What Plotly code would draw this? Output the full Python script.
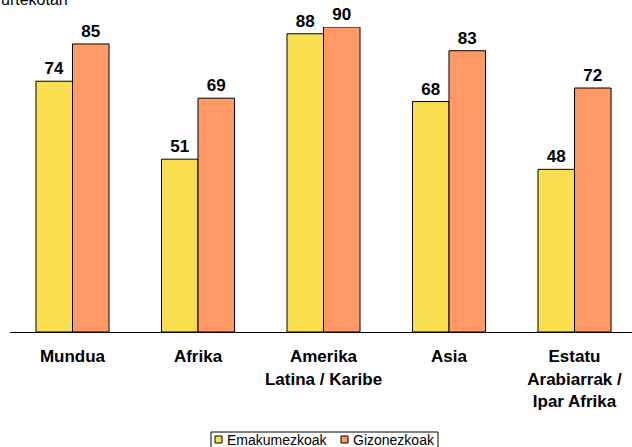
import plotly.graph_objects as go

categories = ["Mundua", "Afrika", "Amerika<br>Latina / Karibe", "Asia", "Estatu<br>Arabiarrak /<br>Ipar Afrika"]
series_names = ["Emakumezkoak", "Gizonezkoak"]
emakumezkoak = [74, 51, 88, 68, 48]
gizonezkoak = [85, 69, 90, 83, 72]
colors = ["#F9DF50", "#FF9966"]

FONT = "Liberation Sans, Arial"
W, H = 632, 447
ML, MR, MT, MB = 10, 0, 27, 115
PW, PH = W - ML - MR, H - MT - MB


def px_x(px):
    return (px - ML) / PW


def px_y(py):
    return (H - MB - py) / PH


fig = go.Figure()
for name, vals, col in zip(series_names, [emakumezkoak, gizonezkoak], colors):
    fig.add_trace(go.Bar(
        x=categories, y=vals, name=name,
        marker=dict(color=col, line=dict(color="#000000", width=1)),
        text=vals, textposition="outside", cliponaxis=False,
        textfont=dict(family=FONT, size=17, color="#000000", weight="bold"),
        showlegend=False,
    ))

# Manual compact legend (box, swatches, labels)
shapes = [dict(type="rect", xref="paper", yref="paper",
               x0=px_x(211), x1=px_x(438), y0=px_y(432), y1=px_y(455),
               line=dict(color="#000000", width=1), fillcolor="white", layer="above")]
annotations = []
legend_pos = [(215, 226), (341, 352)]
for (sx, tx), name, col in zip(legend_pos, series_names, colors):
    shapes.append(dict(type="rect", xref="paper", yref="paper",
                       x0=px_x(sx), x1=px_x(sx + 7), y0=px_y(443), y1=px_y(436),
                       line=dict(color="#000000", width=1), fillcolor=col, layer="above"))
    annotations.append(dict(text=name, xref="paper", yref="paper", x=px_x(tx), y=px_y(440),
                            xanchor="left", yanchor="middle", showarrow=False,
                            font=dict(size=14, family=FONT), borderpad=0))

annotations.append(dict(text="urtekotan", xref="paper", yref="paper", x=px_x(0), y=px_y(9),
                        xanchor="left", yanchor="bottom", showarrow=False,
                        font=dict(size=16, family=FONT), borderpad=0))

fig.update_layout(
    width=W, height=H,
    margin=dict(l=ML, r=MR, t=MT, b=MB, autoexpand=False),
    barmode="group", bargap=0.418, bargroupgap=0,
    plot_bgcolor="white", paper_bgcolor="white",
    font=dict(family=FONT, size=15, color="#000000"),
    xaxis=dict(range=[-0.498, 4.458], showline=True, linecolor="#000000", linewidth=1,
               ticks="", tickfont=dict(size=17, weight="bold"), ticklabelstandoff=9,
               showgrid=False, automargin=False),
    yaxis=dict(range=[0, 90], visible=False, showgrid=False, automargin=False),
    shapes=shapes,
    annotations=annotations,
)

fig.write_html("out.html", config={"displayModeBar": False},
               post_script="document.body.style.margin='0';")
